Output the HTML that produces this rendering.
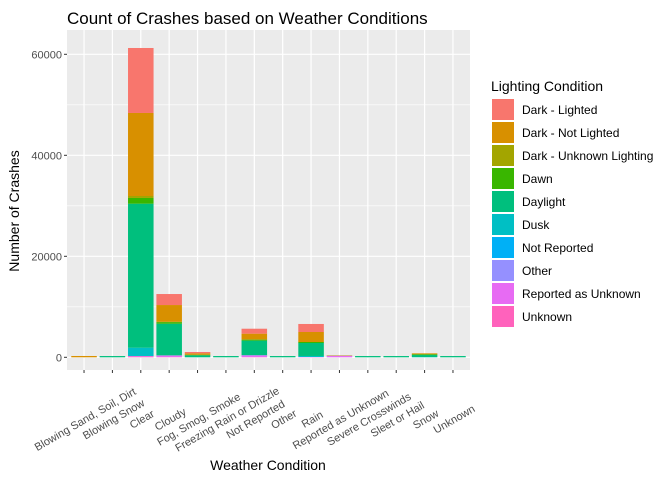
<!DOCTYPE html>
<html><head><meta charset="utf-8"><style>
body{margin:0;background:#fff;font-family:"Liberation Sans",Arial,sans-serif}
svg text{font-family:"Liberation Sans",Arial,sans-serif}
</style></head><body>
<svg id="chart" width="672" height="480" xmlns="http://www.w3.org/2000/svg">
<rect width="672" height="480" fill="#fff"/>
<text x="67" y="24" font-size="17" fill="#000">Count of Crashes based on Weather Conditions</text>
<rect x="67" y="30" width="403" height="340" fill="#ebebeb"/>
<g id="grid"></g><g id="bars"></g><g id="axes"></g>
<text x="268" y="470" font-size="14" text-anchor="middle" fill="#000">Weather Condition</text>
<text transform="translate(19,211) rotate(-90)" font-size="14" text-anchor="middle" fill="#000">Number of Crashes</text>
<text x="491" y="91" font-size="14" fill="#000">Lighting Condition</text>
<g id="legend"></g>
</svg>
<script>
const categories=["Blowing Sand, Soil, Dirt","Blowing Snow","Clear","Cloudy","Fog, Smog, Smoke","Freezing Rain or Drizzle","Not Reported","Other","Rain","Reported as Unknown","Severe Crosswinds","Sleet or Hail","Snow","Unknown"];
const lighting=["Dark - Lighted","Dark - Not Lighted","Dark - Unknown Lighting","Dawn","Daylight","Dusk","Not Reported","Other","Reported as Unknown","Unknown"];
const colors=["#F8766D","#D89000","#A3A500","#39B600","#00BF7D","#00BFC4","#00B0F6","#9590FF","#E76BF3","#FF62BC"];
const darkLighted=[0,0,12870,2180,250,0,980,0,1590,0,0,0,0,0];
const darkNotLighted=[260,0,16440,3300,300,0,1150,0,1980,60,0,0,150,0];
const darkUnknown=[0,0,390,80,0,0,30,0,0,20,0,0,30,0];
const dawn=[0,0,1130,320,100,0,200,0,200,0,0,0,150,0];
const daylight=[0,250,28520,6250,400,250,2850,250,2570,20,250,250,400,250];
const dusk=[0,0,1640,50,0,0,50,0,200,0,0,0,50,0];
const notReported=[0,0,10,0,0,0,0,0,0,0,0,0,0,0];
const other=[0,0,0,0,0,0,0,0,0,0,0,0,0,0];
const reportedUnknown=[0,0,100,300,0,0,350,0,60,300,0,0,0,0];
const unknownL=[0,0,150,50,0,0,50,0,0,0,0,0,0,0];
const yTicks=[0,20000,40000,60000];
const series=[darkLighted,darkNotLighted,darkUnknown,dawn,daylight,dusk,notReported,other,reportedUnknown,unknownL];
const NS="http://www.w3.org/2000/svg";
const px0=67,px1=470,py0=30,py1=370;
const step=(px1-px0)/(categories.length+0.2);
function xs(i){return px0+step*(0.6+i);}
function ys(v){return 357.3-v*(101/20000);}
function mk(tag,a,p){const e=document.createElementNS(NS,tag);for(const k in a)e.setAttribute(k,a[k]);document.getElementById(p).appendChild(e);return e;}
for(let k=0;k<yTicks.length;k++){const m=yTicks[k]+10000;const y=ys(m);if(y>py0){const l=mk('line',{x1:px0,x2:px1,y1:y,y2:y,stroke:'#fff','stroke-width':0.6},'grid');}}
yTicks.forEach(t=>{const y=ys(t);
const l=mk('line',{x1:px0,x2:px1,y1:y,y2:y,stroke:'#fff','stroke-width':1.2},'grid');

const tk=mk('line',{x1:px0-3,x2:px0,y1:y,y2:y,stroke:'#333'},'axes');

const tx=mk('text',{x:px0-5,y:y+4,'font-size':11,'text-anchor':'end',fill:'#4d4d4d'},'axes');tx.textContent=t;
});
categories.forEach((c,i)=>{const x=xs(i);
const l=mk('line',{x1:x,x2:x,y1:py0,y2:py1,stroke:'#fff','stroke-width':1.2},'grid');

let base=0;const w=step*0.9;
for(let s=series.length-1;s>=0;s--){const v=series[s][i];if(v<=0)continue;
const r=mk('rect',{x:x-w/2,y:ys(base+v),width:w,height:ys(base)-ys(base+v),fill:colors[s]},'bars');
base+=v;}
const tk=mk('line',{x1:x,x2:x,y1:py1,y2:py1+3,stroke:'#333'},'axes');

const tx=mk('text',{transform:`translate(${x+1},${419}) rotate(-30)`,dy:4,'font-size':11,'text-anchor':'middle',fill:'#4d4d4d'},'axes');tx.textContent=c;
});
lighting.forEach((n,i)=>{const y=99+i*23;
const r=mk('rect',{x:492,y:y,width:22,height:21,fill:colors[i]},'legend');

const t=mk('text',{x:522,y:y+15,'font-size':12,fill:'#000'},'legend');t.textContent=n;
});
</script>
</body></html>
